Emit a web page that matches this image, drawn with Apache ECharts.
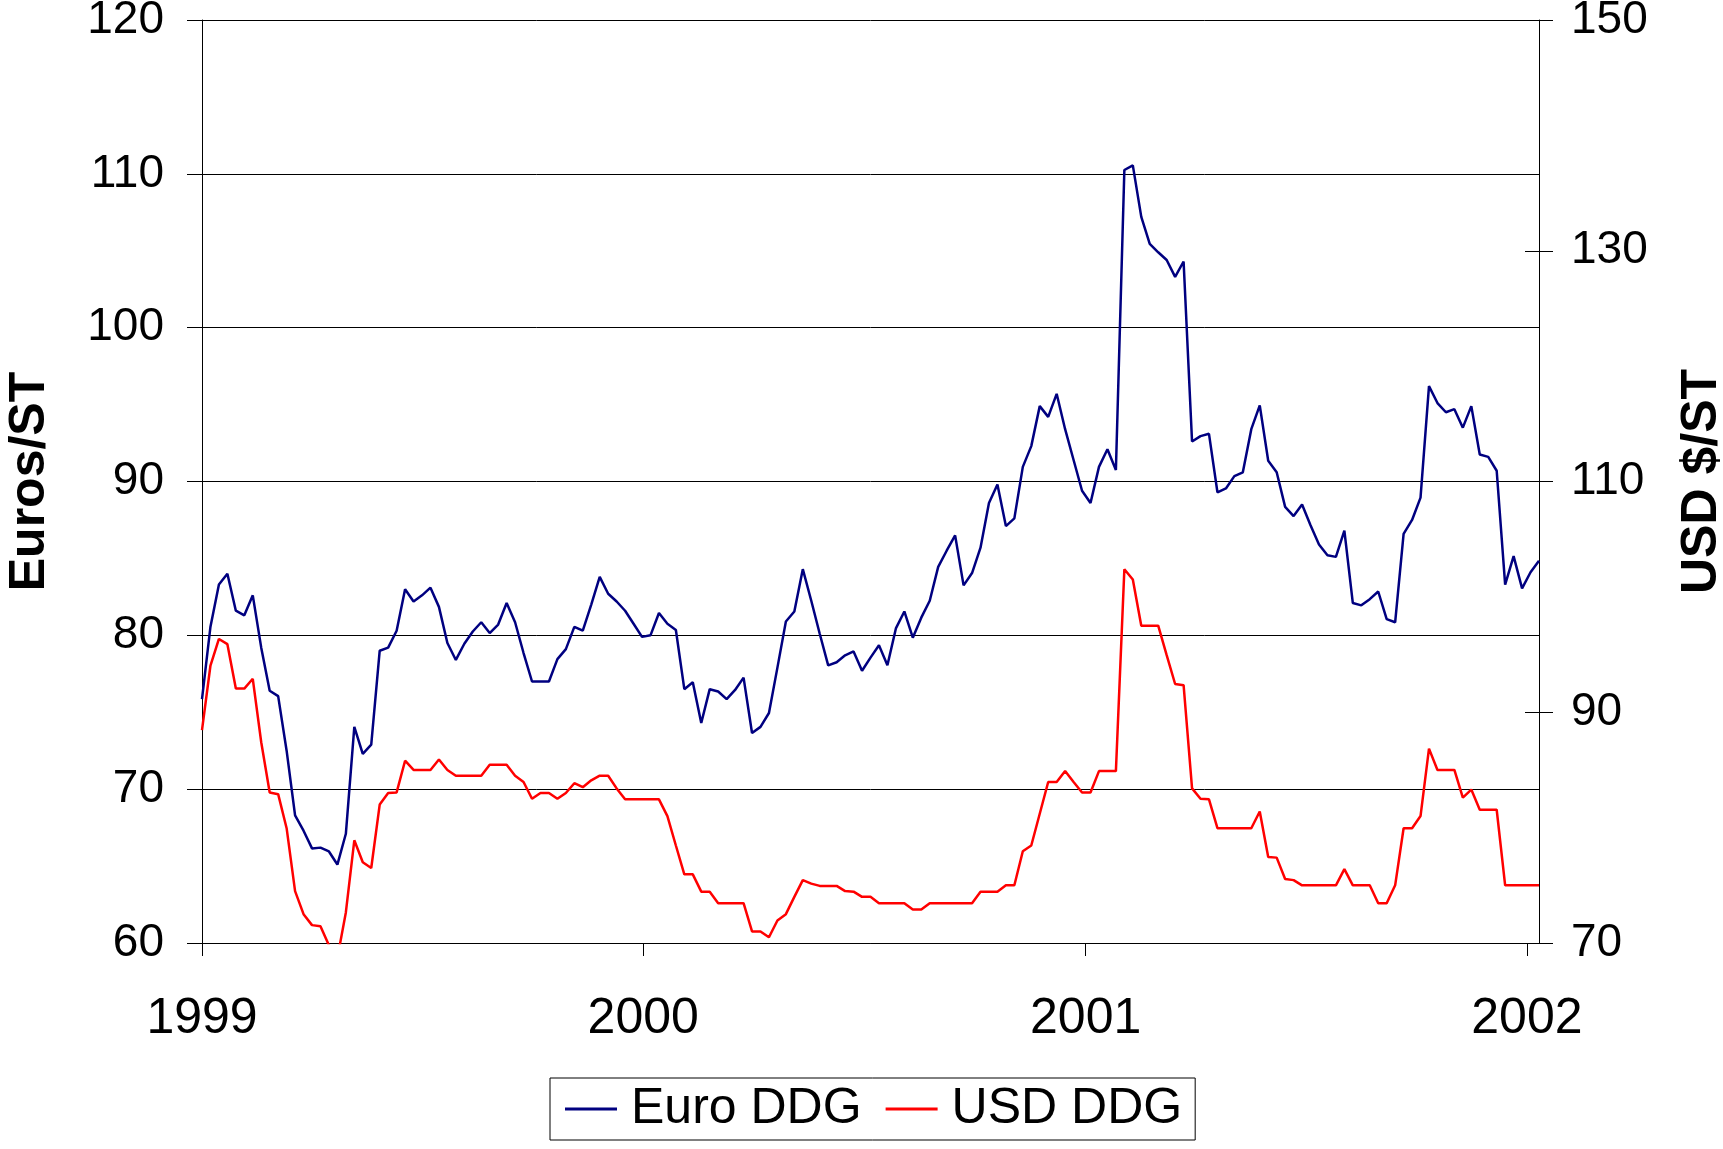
<!DOCTYPE html>
<html>
<head>
<meta charset="utf-8">
<script src="https://cdn.jsdelivr.net/npm/echarts@6/dist/echarts.min.js"></script>
<style>
  html, body { margin: 0; padding: 0; background: #fff; }
  #chart { width: 1723px; height: 1149px; }
</style>
</head>
<body>
<div id="chart"></div>
<script>
// Weekly observations starting 1999-01-01
const stepDays = 7;
const yearTickDays = [0, 365, 731, 1096];
const yearLabels = ['1999', '2000', '2001', '2002'];

const euroDDG = [
  75.85, 80.56, 83.3, 84.0, 81.6, 81.3, 82.6, 79.2, 76.4, 76.05,
  72.5, 68.3, 67.3, 66.15, 66.2, 65.95, 65.1, 67.1, 74.05, 72.3,
  72.9, 79.0, 79.2, 80.3, 83.0, 82.2, 82.6, 83.1, 81.85, 79.5,
  78.4, 79.45, 80.25, 80.85, 80.15, 80.7, 82.1, 80.85, 78.85, 77.0,
  77.0, 77.0, 78.45, 79.1, 80.55, 80.3, 82.0, 83.8, 82.7, 82.2,
  81.6, 80.75, 79.9, 80.0, 81.45, 80.75, 80.35, 76.5, 76.95, 74.3,
  76.5, 76.35, 75.85, 76.45, 77.25, 73.65, 74.05, 74.95, 77.9, 80.9,
  81.55, 84.3, 82.25, 80.1, 78.05, 78.25, 78.7, 78.95, 77.7, 78.55,
  79.35, 78.05, 80.45, 81.55, 79.85, 81.15, 82.25, 84.45, 85.5, 86.5,
  83.25, 84.05, 85.7, 88.6, 89.8, 87.1, 87.6, 90.95, 92.3, 94.9,
  94.2, 95.7, 93.4, 91.4, 89.4, 88.6, 90.95, 92.1, 90.75, 110.25,
  110.55, 107.2, 105.45, 104.9, 104.4, 103.3, 104.3, 92.6, 92.95, 93.1,
  89.3, 89.55, 90.35, 90.6, 93.4, 94.95, 91.35, 90.6, 88.35, 87.75,
  88.5, 87.15, 85.9, 85.2, 85.1, 86.8, 82.1, 81.95, 82.35, 82.85,
  81.05, 80.85, 86.6, 87.5, 88.95, 96.2, 95.1, 94.5, 94.7, 93.5,
  94.9, 91.75, 91.6, 90.7, 83.3, 85.15, 83.05, 84.1, 84.85
];

const usdDDG = [
  88.45, 94.05, 96.35, 95.9, 92.05, 92.05, 92.9, 87.4, 83.05, 82.9,
  79.95, 74.5, 72.5, 71.55, 71.45, 69.8, 68.7, 72.65, 78.9, 77.0,
  76.5, 82.0, 83.0, 83.05, 85.8, 85.0, 85.0, 85.0, 85.9, 85.0,
  84.5, 84.5, 84.5, 84.5, 85.45, 85.45, 85.45, 84.5, 83.95, 82.5,
  83.0, 83.0, 82.5, 83.0, 83.85, 83.5, 84.1, 84.5, 84.5, 83.4,
  82.45, 82.45, 82.45, 82.45, 82.45, 81.0, 78.45, 75.95, 75.95, 74.45,
  74.45, 73.45, 73.45, 73.45, 73.45, 71.0, 71.0, 70.5, 71.95, 72.5,
  74.0, 75.45, 75.15, 74.95, 74.95, 74.95, 74.5, 74.45, 74.0, 74.0,
  73.45, 73.45, 73.45, 73.45, 72.9, 72.9, 73.45, 73.45, 73.45, 73.45,
  73.45, 73.45, 74.45, 74.45, 74.45, 75.0, 75.0, 77.95, 78.45, 81.2,
  83.95, 83.95, 84.9, 83.95, 83.05, 83.05, 84.9, 84.9, 84.9, 102.4,
  101.5, 97.5, 97.5, 97.5, 94.95, 92.45, 92.35, 83.4, 82.5, 82.45,
  79.95, 79.95, 79.95, 79.95, 79.95, 81.4, 77.45, 77.4, 75.55, 75.45,
  75.0, 75.0, 75.0, 75.0, 75.0, 76.4, 75.0, 75.0, 75.0, 73.45,
  73.45, 75.0, 79.95, 79.95, 81.0, 86.85, 85.0, 85.0, 85.0, 82.6,
  83.3, 81.55, 81.55, 81.55, 75.0, 75.0, 75.0, 75.0, 75.0
];

const leftTicks = { min: 60, max: 120, interval: 10 };
const rightTicks = { min: 70, max: 150, interval: 20 };

const FONT = "'Liberation Sans', Arial, sans-serif";
const toPairs = arr => arr.map((v, i) => [i * stepDays, v]);
const lastDay = (euroDDG.length - 1) * stepDays;

const chart = echarts.init(document.getElementById('chart'), null, { renderer: 'canvas' });
chart.setOption({
  animation: false,
  backgroundColor: '#ffffff',
  grid: { left: 202, right: 184, top: 20, bottom: 206, containLabel: false, outerBoundsMode: 'none' },
  legend: {
    left: 550, top: 1078,
    data: ['Euro DDG', 'USD DDG'],
    icon: 'rect',
    itemWidth: 52, itemHeight: 3, itemGap: 24,
    padding: [6, 13, 6, 15],
    borderColor: '#000', borderWidth: 1,
    textStyle: { fontFamily: FONT, fontSize: 50, color: '#000', padding: [0, 0, 0, 9] }
  },
  xAxis: {
    type: 'value', min: 0, max: lastDay,
    axisLine: { show: true, lineStyle: { color: '#000', width: 1 } },
    axisTick: { show: true, length: 13, customValues: yearTickDays, lineStyle: { color: '#000' } },
    axisLabel: {
      customValues: yearTickDays,
      formatter: v => yearLabels[yearTickDays.indexOf(v)] || '',
      fontFamily: FONT, fontSize: 50, color: '#000', margin: 51
    },
    splitLine: { show: false }
  },
  yAxis: [
    {
      type: 'value', position: 'left', ...leftTicks,
      name: 'Euros/ST', nameLocation: 'middle', nameGap: 147, nameRotate: 90,
      nameTextStyle: { fontFamily: FONT, fontSize: 50, fontWeight: 'bold', color: '#000' },
      axisLine: { show: true, lineStyle: { color: '#000', width: 1 } },
      axisTick: { show: true, length: 15, lineStyle: { color: '#000' } },
      axisLabel: { fontFamily: FONT, fontSize: 46, color: '#000', margin: 38 },
      splitLine: { show: true, lineStyle: { color: '#000', width: 1 } }
    },
    {
      type: 'value', position: 'right', ...rightTicks,
      name: 'USD $/ST', nameLocation: 'middle', nameGap: 138, nameRotate: 90,
      nameTextStyle: { fontFamily: FONT, fontSize: 50, fontWeight: 'bold', color: '#000' },
      axisLine: { show: true, lineStyle: { color: '#000', width: 1 } },
      axisTick: { show: true, length: 14, lineStyle: { color: '#000' } },
      axisLabel: { fontFamily: FONT, fontSize: 46, color: '#000', margin: 32 },
      splitLine: { show: false }
    },
    {
      type: 'value', position: 'right', ...rightTicks,
      axisLine: { show: false },
      axisTick: { show: true, inside: true, length: 14, lineStyle: { color: '#000' } },
      axisLabel: { show: false },
      splitLine: { show: false }
    }
  ],
  series: [
    {
      name: 'Euro DDG', type: 'line', yAxisIndex: 0,
      data: toPairs(euroDDG),
      symbol: 'none', clip: true,
      lineStyle: { color: '#000080', width: 2.5 },
      itemStyle: { color: '#000080' }
    },
    {
      name: 'USD DDG', type: 'line', yAxisIndex: 1,
      data: toPairs(usdDDG),
      symbol: 'none', clip: true,
      lineStyle: { color: '#ff0000', width: 2.5 },
      itemStyle: { color: '#ff0000' }
    }
  ]
});
</script>
</body>
</html>
